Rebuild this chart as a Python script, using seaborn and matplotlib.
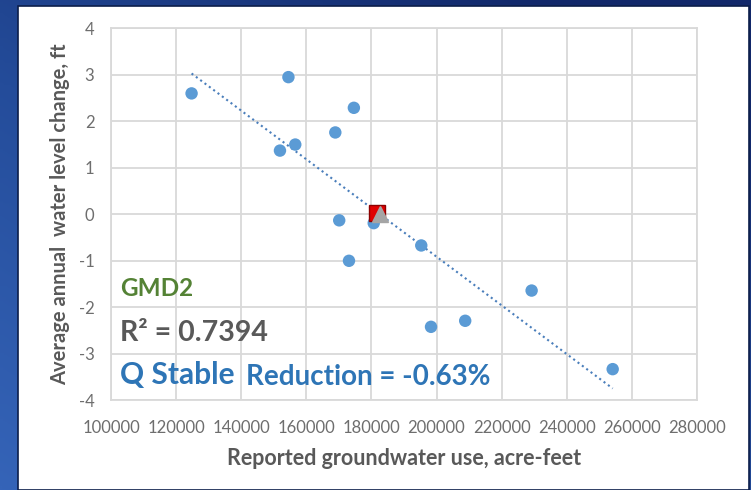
import numpy as np
import pandas as pd
import matplotlib
matplotlib.use("Agg")
import matplotlib.pyplot as plt
from matplotlib.patches import Rectangle
from matplotlib.colors import LinearSegmentedColormap
import seaborn as sns

# Reported groundwater use (acre-feet) and average annual water level change (ft)
use_af = [124750, 154500, 174600, 168900, 156600, 151900, 170100,
          180700, 173100, 195300, 229200, 198300, 208800, 254100]
level_change_ft = [2.60, 2.95, 2.29, 1.76, 1.50, 1.37, -0.13,
                   -0.19, -1.00, -0.67, -1.64, -2.42, -2.29, -3.33]

# Q stable points (use at which the level change is zero)
qstable_use = [181600]
qstable_change = [0.03]
fit_zero_use = [182500]
fit_zero_change = [0.0]

x_ticks = [100000, 120000, 140000, 160000, 180000, 200000, 220000, 240000, 260000, 280000]
y_ticks = [-4, -3, -2, -1, 0, 1, 2, 3, 4]

df = pd.DataFrame({"use": use_af, "change": level_change_ft})

sns.set_theme(style="white")
plt.rcParams["font.family"] = ["Lato", "DejaVu Sans"]

W, H = 751, 490
fig = plt.figure(figsize=(W / 100, H / 100), dpi=100)

# blue gradient backdrop
bg = fig.add_axes([0, 0, 1, 1], zorder=-10)
gx, gy = np.meshgrid(np.linspace(0, 1, 200), np.linspace(0, 1, 200))
grad = np.clip(0.55 * gx + 0.6 * (1 - gy), 0, 1)
cmap = LinearSegmentedColormap.from_list("bluebg", ["#3564B8", "#244C9A", "#12286A"])
bg.imshow(grad, cmap=cmap, aspect="auto", extent=[0, 1, 0, 1], origin="upper")
bg.set_xlim(0, 1)
bg.set_ylim(0, 1)
bg.axis("off")
bg.add_patch(Rectangle((18 / W, 0), (749 - 18) / W, (490 - 6) / H,
                       transform=bg.transAxes, facecolor="white",
                       edgecolor="#0C1E4A", linewidth=1.2))

left, right, top, bottom = 111, 697, 28.3, 400.3
ax = fig.add_axes([left / W, 1 - bottom / H, (right - left) / W, (bottom - top) / H])
ax.set_facecolor("white")

grid_c = "#D9D9D9"
ax.set_xlim(100000, 280000)
ax.set_ylim(-4, 4)
ax.set_xticks(x_ticks)
ax.set_yticks(y_ticks)
ax.grid(True, color=grid_c, linewidth=1.3)
ax.set_axisbelow(True)
for s in ax.spines.values():
    s.set_color(grid_c)
    s.set_linewidth(1.3)

sns.regplot(data=df, x="use", y="change", ax=ax, scatter=False, ci=None,
            truncate=True,
            line_kws={"color": "#4A7EBB", "linewidth": 1.5,
                      "linestyle": (0, (1, 1.6))})
sns.scatterplot(data=df, x="use", y="change", ax=ax, color="#5B9BD5",
                s=80, edgecolor="none", zorder=3)

ax.plot(qstable_use, qstable_change, marker="s", markersize=12,
        markerfacecolor="#E00000", markeredgecolor="#8B0000",
        markeredgewidth=1, linestyle="none", zorder=4)
ax.plot(fit_zero_use, fit_zero_change, marker="^", markersize=12,
        markerfacecolor="#A5A5A5", markeredgecolor="#A5A5A5",
        linestyle="none", zorder=5)

tick_c = "#6E6E6E"
ax.tick_params(axis="both", length=0, labelsize=12, labelcolor=tick_c)
ax.tick_params(axis="y", pad=12)
ax.tick_params(axis="x", pad=14)
ax.set_yticklabels([str(v) for v in y_ticks])
ax.set_xticklabels([str(v) for v in x_ticks])

lab_c = "#595959"
ax.set_xlabel("Reported groundwater use, acre-feet", fontsize=15.5,
              fontweight="bold", color=lab_c, labelpad=9)
ax.set_ylabel("Average annual  water level change, ft", fontsize=14.5,
              fontweight="bold", color=lab_c, labelpad=6)

def px(x, y):
    return ((x - left) / (right - left), (bottom - y) / (bottom - top))

ax.text(*px(120, 289), "GMD2", transform=ax.transAxes, fontsize=17.5,
        fontweight="bold", color="#548235", va="center", ha="left")
ax.text(*px(120, 333), "R² = 0.7394", transform=ax.transAxes, fontsize=20.5,
        fontweight="bold", color=lab_c, va="center", ha="left")
ax.text(*px(120, 375), "Q Stable", transform=ax.transAxes, fontsize=21.5,
        fontweight="bold", color="#2E75B6", va="center", ha="left")
ax.text(*px(246, 377), "Reduction = -0.63%", transform=ax.transAxes, fontsize=20,
        fontweight="bold", color="#2E75B6", va="center", ha="left")

fig.savefig("out.png", dpi=100)
